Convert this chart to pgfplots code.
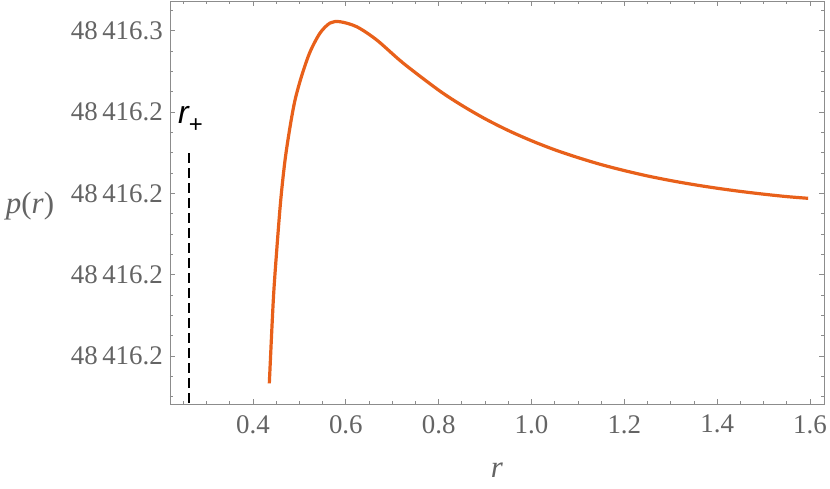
\documentclass[border=0pt]{standalone}
\usepackage{fontspec}
\setmainfont{Liberation Serif}
\setsansfont{Liberation Sans}
\usepackage{pgfplots}
\pgfplotsset{compat=1.18}
\definecolor{curve}{RGB}{232,96,26}
\definecolor{frame}{RGB}{140,140,140}
\definecolor{lbl}{RGB}{100,100,100}
\begin{document}
\begin{tikzpicture}
\begin{axis}[
  scale only axis, width=654bp, height=403bp,
  xmin=0.2211, xmax=1.6302, ymin=-0.590, ymax=4.367,
  axis line style={frame, line width=0.8bp},
  tick style={frame, line width=0.8bp},
  tick align=inside,
  major tick length=5bp, minor tick length=3bp,
  xtick={0.4,0.6,0.8,1.0,1.2,1.4,1.6},
  xticklabels={0.4,0.6,0.8,1.0,1.2,1.4,1.6},
  minor xtick={0.25,0.3,0.35,0.45,0.5,0.55,0.65,0.7,0.75,0.85,0.9,0.95,1.05,1.1,1.15,1.25,1.3,1.35,1.45,1.5,1.55},
  ytick={0,1,2,3,4},
  yticklabels={48\,416.2,48\,416.2,48\,416.2,48\,416.2,48\,416.3},
  minor ytick={-0.5,-0.25,0.25,0.5,0.75,1.25,1.5,1.75,2.25,2.5,2.75,3.25,3.5,3.75,4.25},
  /pgf/number format/assume math mode=true,
  ticklabel style={font=\fontsize{27}{27}\selectfont, text=lbl, inner sep=0pt},
  xticklabel style={yshift=-11bp},
  yticklabel style={xshift=-7bp},
  xlabel={\textit{r}},
  ylabel={\textit{p}(\textit{r})},
  label style={font=\fontsize{31}{31}\selectfont, text=lbl, inner sep=0pt},
  xlabel style={at={(axis description cs:0.5,0)}, anchor=center, yshift=-66bp},
  ylabel style={rotate=-90, at={(axis description cs:0,0.4913)}, anchor=center, xshift=-140bp},
  clip=false,
]
\addplot[curve, line width=3.2bp, smooth] coordinates {
(0.4351,-0.336)
(0.4437,0.689)
(0.4511,1.304)
(0.4597,1.919)
(0.4690,2.411)
(0.4797,2.817)
(0.4905,3.149)
(0.5050,3.450)
(0.5228,3.740)
(0.5444,3.973)
(0.5659,4.096)
(0.5875,4.112)
(0.6235,4.050)
(0.6666,3.887)
(0.7233,3.604)
(0.80,3.270)
(0.85,3.083)
(0.90,2.918)
(0.95,2.774)
(1.00,2.648)
(1.05,2.537)
(1.10,2.441)
(1.15,2.355)
(1.20,2.281)
(1.25,2.215)
(1.30,2.158)
(1.35,2.108)
(1.40,2.064)
(1.45,2.025)
(1.50,1.991)
(1.55,1.961)
(1.596,1.940)
};
\addplot[black, line width=2.5bp, dash pattern=on 10bp off 5bp] coordinates {(0.262,2.497) (0.262,-0.590)};
\node[anchor=base west, inner sep=0pt, font=\sffamily] at (axis cs:0.2384,2.866)
  {\fontsize{32}{32}\selectfont\itshape r\upshape\raisebox{-9bp}{\fontsize{24}{24}\selectfont +}};
\end{axis}
\pgfresetboundingbox
\path[use as bounding box] (-170bp,-85bp) rectangle (660bp,404bp);
\end{tikzpicture}
\end{document}
